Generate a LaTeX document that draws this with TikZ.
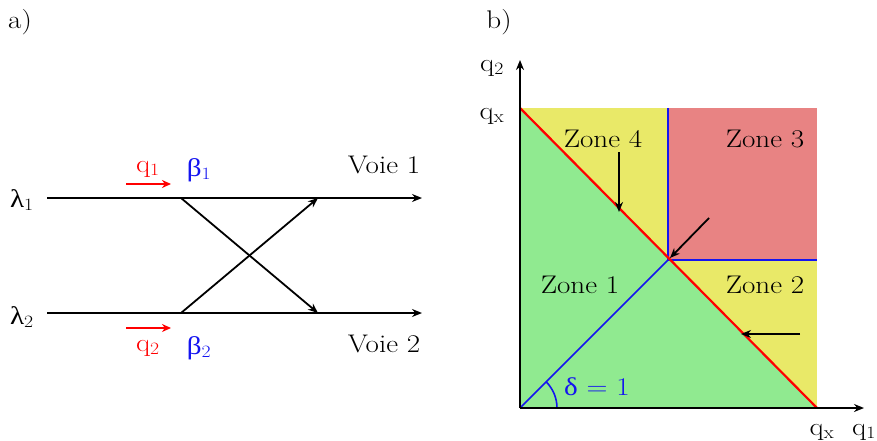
\documentclass[tikz,border=0pt]{standalone}
\usepackage{fontspec}
\newfontfamily\gr{Liberation Serif}
\usetikzlibrary{arrows.meta}
\definecolor{zgreen}{RGB}{144,234,144}
\definecolor{zyellow}{RGB}{233,233,104}
\definecolor{zred}{RGB}{232,131,131}
\definecolor{myblue}{RGB}{20,20,240}
\tikzset{
  lbl/.style={font=\fontsize{25.5}{30}\selectfont, inner sep=0pt, xscale=1.14, transform shape},
  arr/.style={line width=1.8pt,-{Stealth[length=10pt,width=8pt]}},
  rarr/.style={line width=2pt,red,-{Stealth[length=9pt,width=8pt]}},
  bl/.style={line width=1.6pt,myblue},
}
\begin{document}
\begin{tikzpicture}[x=1pt,y=-1pt]
\useasboundingbox (0,0) rectangle (877,441);
% ---------- panel a ----------
\node[lbl] (la) at (20,22) {a)};
\coordinate (a1s) at (47,198);
\coordinate (a1e) at (422,198);
\coordinate (a2s) at (47,313);
\coordinate (a2e) at (422,313);
\coordinate (x1) at (181,198);
\coordinate (x2) at (181,313);
\coordinate (y1) at (318,198);
\coordinate (y2) at (318,313);
\draw[arr] (a1s) -- (a1e);
\draw[arr] (a2s) -- (a2e);
\draw[arr] (x1) -- (y2);
\draw[arr] (x2) -- (y1);
\coordinate (r1s) at (126,184);
\coordinate (r1e) at (171,184);
\coordinate (r2s) at (126,328);
\coordinate (r2e) at (171,328);
\draw[rarr] (r1s) -- (r1e);
\draw[rarr] (r2s) -- (r2e);
\node[lbl] (lam1) at (22,200) {{\gr λ}$_1$};
\node[lbl] (lam2) at (22,317) {{\gr λ}$_2$};
\node[lbl,red] (q1) at (148,169) {q$_1$};
\node[lbl,red] (q2) at (148,348) {q$_2$};
\node[lbl,myblue] (b1) at (199,170) {{\gr β}$_1$};
\node[lbl,myblue] (b2) at (199,348) {{\gr β}$_2$};
\node[lbl] (v1) at (384,165) {Voie 1};
\node[lbl] (v2) at (384,344) {Voie 2};
% ---------- panel b ----------
\node[lbl] (lb) at (499,22) {b)};
\coordinate (O) at (520,408);
\coordinate (TL) at (520,108);
\coordinate (BR) at (817,408);
\coordinate (TR) at (817,108);
\coordinate (M) at (668,260);
\coordinate (MT) at (668,108);
\coordinate (MR) at (817,260);
\fill[zyellow] (TL) rectangle (BR);
\fill[zred] (MT) rectangle (MR);
\fill[zgreen] (O) -- (TL) -- (BR) -- cycle;
\draw[bl] (MT) -- (M) -- (MR);
\draw[bl] (O) -- (M);
\draw[line width=2.2pt,red] (TL) -- (BR);
\draw[bl] ([xshift=37pt]O) arc[start angle=0,end angle=45,radius=37pt];
\coordinate (yax) at (520,60);
\coordinate (xax) at (864,408);
\draw[arr] (O) -- (yax);
\draw[arr] (O) -- (xax);
\node[lbl] (z4) at (603,139) {Zone 4};
\node[lbl] (z3) at (765,139) {Zone 3};
\node[lbl] (z1) at (580,285) {Zone 1};
\node[lbl] (z2) at (765,285) {Zone 2};
\node[lbl,myblue] (del) at (597,387) {{\gr δ} = 1};
\coordinate (k1s) at (619,152);
\coordinate (k1e) at (619,212);
\coordinate (k2s) at (709,218);
\coordinate (k2e) at (670,258);
\coordinate (k3s) at (800,334);
\coordinate (k3e) at (741,334);
\draw[arr] (k1s) -- (k1e);
\draw[arr] (k2s) -- (k2e);
\draw[arr] (k3s) -- (k3e);
\node[lbl] (q2ax) at (492,68) {q$_2$};
\node[lbl] (qxy) at (492,116) {q$_\mathrm{x}$};
\node[lbl] (qxx) at (822,432) {q$_\mathrm{x}$};
\node[lbl] (q1ax) at (864,432) {q$_1$};
\end{tikzpicture}
\end{document}
